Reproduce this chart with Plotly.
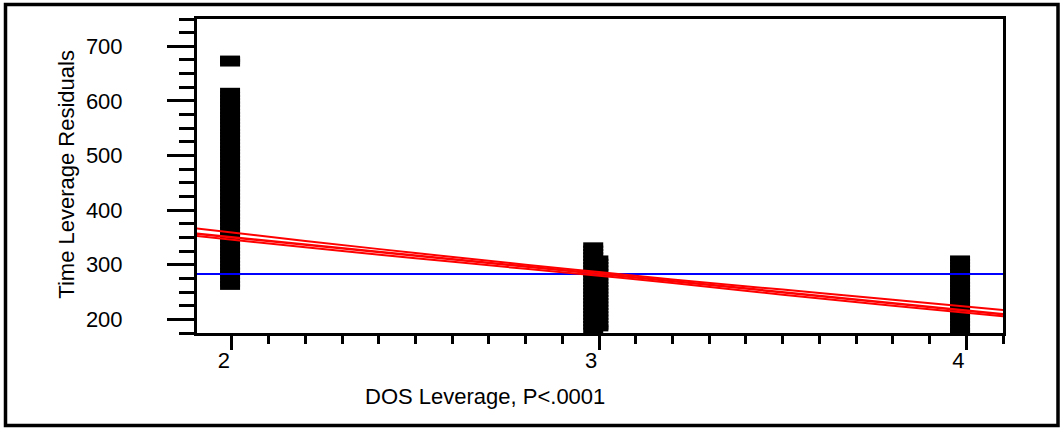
import plotly.graph_objects as go

# ---------------- data ----------------
# column near DOS leverage = 2
x_col2 = 1.995
col2_main = [619, 612, 606, 600, 594, 588, 581, 575, 569, 563, 557, 550, 544, 538,
             532, 526, 519, 513, 507, 501, 495, 488, 482, 476, 470, 464, 457, 451,
             445, 439, 433, 426, 420, 414, 408, 402, 395, 389, 383, 377, 371, 364,
             358, 352, 346, 340, 333, 327, 321, 315, 309, 302, 296, 290, 284, 278,
             271, 265, 259]
col2_top = [668, 672, 676, 678]

# two overlapping columns near DOS leverage = 3
x_col3a = 2.984
col3a = [336, 330, 324, 318, 312, 306, 300, 294, 288, 282, 276, 270, 264, 258,
         252, 246, 240, 234, 228, 222, 216, 210, 204, 198, 192, 186, 180, 174]
x_col3b = 2.998
col3b = [312, 306, 300, 294, 288, 282, 276, 270, 264, 258, 252, 246, 240, 234,
         228, 222, 216, 210, 204, 198, 192, 186, 183]

# column near DOS leverage = 4
x_col4 = 3.983
col4 = [312, 306, 300, 294, 288, 282, 276, 270, 264, 258, 252, 246, 240, 234,
        228, 222, 216, 210, 204, 198, 192, 186, 180, 176, 172]

# mean line and fit line
line_x = [1.892, 4.1]
mean_y = [283, 283]
fit_y = [357.5, 209.5]

# confidence curves
conf_x = [1.892, 2.2, 2.5, 2.8, 3.0, 3.2, 3.5, 3.8, 4.1]
upper_y = [367.5, 343.5, 321.5, 300.0, 286.5, 273.0, 254.5, 236.0, 217.0]
lower_y = [353.5, 332.0, 312.0, 292.5, 280.0, 266.5, 245.0, 225.0, 205.5]

x_title = "DOS Leverage, P<.0001"
y_title = "Time Leverage Residuals"

# ---------------- figure ----------------
FONT = "Liberation Sans, Arial, sans-serif"
W, H = 1062, 433
ML, MR, MT, MB = 197, 59, 19, 100
PW, PH = W - ML - MR, H - MT - MB


def px_x(px):
    return (px - ML) / PW


def px_y(py):
    return (H - MB - py) / PH


fig = go.Figure()

# line-ew path length is 2.8 * size/2 -> size 14.3 gives a 20 px dash
mk = dict(symbol="line-ew", size=14.3, color="black",
          line=dict(color="black", width=5.5))


def col(xv, ys):
    fig.add_trace(go.Scatter(x=[xv] * len(ys), y=ys, mode="markers",
                             marker=mk, cliponaxis=False, showlegend=False,
                             hoverinfo="skip"))


col(x_col2, col2_main)
col(x_col2, col2_top)
col(x_col3a, col3a)
col(x_col3b, col3b)
col(x_col4, col4)

fig.add_trace(go.Scatter(x=line_x, y=mean_y, mode="lines",
                         line=dict(color="#0000ff", width=2),
                         cliponaxis=False, showlegend=False))
fig.add_trace(go.Scatter(x=conf_x, y=upper_y, mode="lines",
                         line=dict(color="#ff0000", width=2, shape="spline"),
                         cliponaxis=False, showlegend=False))
fig.add_trace(go.Scatter(x=conf_x, y=lower_y, mode="lines",
                         line=dict(color="#ff0000", width=2, shape="spline"),
                         cliponaxis=False, showlegend=False))
fig.add_trace(go.Scatter(x=line_x, y=fit_y, mode="lines",
                         line=dict(color="#ff0000", width=2.5),
                         cliponaxis=False, showlegend=False))

fig.update_layout(
    width=W, height=H,
    margin=dict(l=ML, r=MR, t=MT, b=MB, pad=0),
    paper_bgcolor="white", plot_bgcolor="white",
    font=dict(family=FONT, size=22, color="black"),
    showlegend=False,
)

fig.update_xaxes(
    range=[1.905, 4.1], showgrid=False, zeroline=False,
    showline=True, linecolor="black", linewidth=3, mirror=True,
    tickmode="linear", tick0=0, dtick=1,
    ticks="outside", ticklen=14, tickwidth=3, tickcolor="black",
    ticklabelshift=-8, ticklabelstandoff=-8,
    tickfont=dict(family=FONT, size=22, color="black"),
    minor=dict(dtick=0.1, tick0=0, ticks="outside", ticklen=8,
               tickwidth=3, tickcolor="black", showgrid=False),
)
fig.update_yaxes(
    range=[175, 750], showgrid=False, zeroline=False,
    showline=True, linecolor="black", linewidth=3, mirror=True,
    tickmode="linear", tick0=0, dtick=100,
    ticks="outside", ticklen=27, tickwidth=3, tickcolor="black",
    ticklabelstandoff=40,
    tickfont=dict(family=FONT, size=22, color="black"),
    minor=dict(dtick=25, tick0=0, ticks="outside", ticklen=15,
               tickwidth=3, tickcolor="black", showgrid=False),
)

fig.add_annotation(text=x_title, xref="paper", yref="paper",
                   x=px_x(485), y=px_y(396), xanchor="center", yanchor="middle",
                   showarrow=False, font=dict(family=FONT, size=22, color="black"))
fig.add_annotation(text=y_title, xref="paper", yref="paper", textangle=-90,
                   x=px_x(65.7), y=px_y(174), xanchor="center", yanchor="middle",
                   showarrow=False, font=dict(family=FONT, size=22, color="black"))

# outer frame of the picture
fig.add_shape(type="rect", xref="paper", yref="paper",
              x0=px_x(5.5), x1=px_x(1058), y0=px_y(425.5), y1=px_y(4.5),
              line=dict(color="black", width=3.5), fillcolor="rgba(0,0,0,0)",
              layer="above")

fig.write_html("out.html")
